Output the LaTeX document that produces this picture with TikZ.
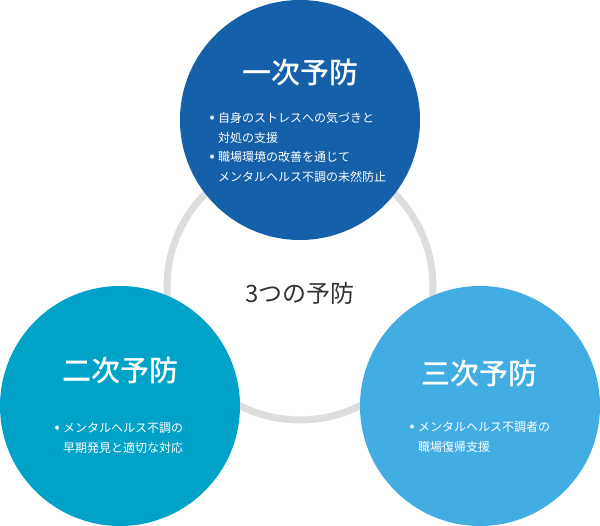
\documentclass[tikz,border=0pt]{standalone}
\usepackage{fontspec}
\setmainfont{Noto Sans CJK JP}
\newfontfamily\jpmed{Noto Sans CJK JP Medium}
\definecolor{cTop}{HTML}{1560A8}
\definecolor{cLeft}{HTML}{00A2C7}
\definecolor{cRight}{HTML}{42ADE3}
\definecolor{cRing}{HTML}{DDDDDD}
\definecolor{cText}{HTML}{333333}
\newcommand{\bul}{\makebox[1em][c]{\fontsize{15pt}{15pt}\selectfont •}}
\tikzset{
  bigcircle/.style={circle, minimum size=240pt, inner sep=0pt, draw=none},
  titletext/.style={text=white, font=\jpmed\fontsize{29pt}{32pt}\selectfont, inner sep=0pt},
  bullettext/.style={text=white, font=\fontsize{12pt}{19.5pt}\selectfont, align=left, inner sep=0pt, anchor=west},
}
\begin{document}
\begin{tikzpicture}[x=1pt,y=-1pt]
\useasboundingbox (0,0) rectangle (600,526);
\draw[cRing, line width=7pt] (300,287) circle (133pt);
\node[bigcircle, fill=cTop] (top) at (300,120) {};
\node[bigcircle, fill=cLeft] (left) at (120,406) {};
\node[bigcircle, fill=cRight] (right) at (480,406) {};
\node[text=cText, font=\fontsize{24pt}{28pt}\selectfont, inner sep=0pt] (center) at (300,293) {3つの予防};
\node[titletext] (toptitle) at (300,72) {一次予防};
\node[bullettext] (topbul) at (206,147.5) {\bul 自身のストレスへの気づきと\\\hspace{1em}対処の支援\\\bul 職場環境の改善を通じて\\\hspace{1em}メンタルヘルス不調の未然防止};
\node[titletext] (lefttitle) at (120,370) {二次予防};
\node[bullettext] (leftbul) at (51,438) {\bul メンタルヘルス不調の\\\hspace{1em}早期発見と適切な対応};
\node[titletext] (righttitle) at (479,373) {三次予防};
\node[bullettext] (rightbul) at (406,437) {\bul メンタルヘルス不調者の\\\hspace{1em}職場復帰支援};
\end{tikzpicture}
\end{document}
